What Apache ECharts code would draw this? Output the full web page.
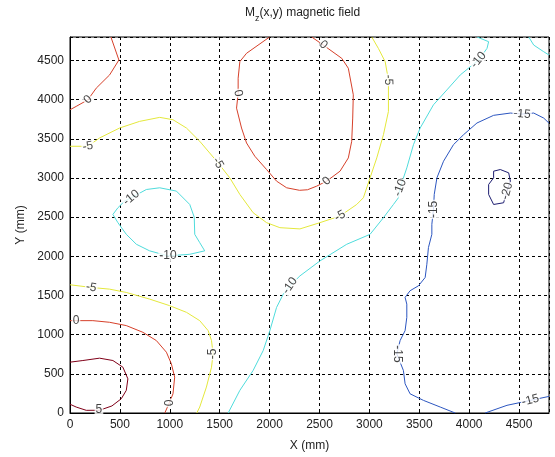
<!DOCTYPE html>
<html>
<head>
<meta charset="utf-8">
<script src="https://cdn.jsdelivr.net/npm/echarts@6/dist/echarts.min.js"></script>
<style>
  html, body { margin: 0; padding: 0; background: #fff; }
  #chart { width: 555px; height: 457px; }
</style>
</head>
<body>
<div id="chart"></div>
<script>
// contour levels as [x, y] in mm
const level0TopLeft = [[410, 4800], [490, 4506], [397, 4316], [263, 4147], [179, 3998], [62, 3914], [0, 3871]]
const level0Top = [[2000, 4800], [1769, 4592], [1702, 4486], [1685, 4274], [1685, 4083], [1669, 3892], [1719, 3638], [1769, 3447], [1852, 3278], [1970, 3108], [2070, 2960], [2171, 2875], [2300, 2843], [2380, 2850], [2472, 2896], [2572, 2960], [2706, 3087], [2789, 3256], [2823, 3469], [2833, 3765], [2839, 4062], [2789, 4401], [2723, 4528], [2538, 4697], [2422, 4800]]
const level0Bottom = [[0, 1179], [229, 1179], [397, 1158], [564, 1116], [731, 1030], [865, 925], [966, 776], [1016, 627], [1049, 458], [1032, 245], [995, 130], [950, 0]]
const level5 = [[0, 649], [129, 670], [296, 700], [430, 670], [530, 585], [580, 436], [564, 289], [514, 182], [420, 90], [296, 35], [163, 34], [62, 76], [0, 112]]
const levelM5Top = [[0, 3405], [179, 3405], [296, 3511], [497, 3638], [698, 3723], [899, 3774], [1032, 3744], [1167, 3638], [1300, 3469], [1484, 3193], [1601, 3002], [1702, 2790], [1835, 2557], [1970, 2430], [2103, 2366], [2304, 2350], [2505, 2430], [2706, 2515], [2873, 2662], [2940, 2748], [3007, 3002], [3074, 3256], [3141, 3553], [3191, 3850], [3191, 4252], [3158, 4486], [3090, 4655], [3024, 4800]]
const levelM5Bottom = [[0, 1637], [213, 1603], [397, 1581], [564, 1539], [798, 1454], [999, 1370], [1167, 1285], [1300, 1179], [1384, 1052], [1418, 925], [1434, 754], [1418, 585], [1367, 331], [1300, 76], [1270, 0]]
const levelM10Loop = [[614, 2748], [765, 2853], [899, 2875], [1066, 2833], [1200, 2662], [1245, 2500], [1250, 2281], [1300, 2175], [1350, 2070], [1200, 2026], [982, 2006], [798, 2070], [665, 2154], [564, 2281], [480, 2430], [430, 2535], [480, 2620], [547, 2705], [614, 2748]]
const levelM10 = [[1585, 0], [1702, 289], [1835, 543], [1936, 797], [2003, 1052], [2070, 1348], [2137, 1517], [2204, 1624], [2304, 1750], [2505, 1942], [2773, 2154], [3007, 2281], [3141, 2493], [3241, 2662], [3291, 2748], [3308, 2875], [3375, 3129], [3442, 3426], [3509, 3638], [3642, 3934], [3777, 4125], [3911, 4316], [4094, 4506], [4179, 4655], [4195, 4740], [4080, 4800]]
const levelM10Corner = [[4597, 4800], [4614, 4783], [4647, 4697], [4747, 4612], [4800, 4570]]
const levelM15 = [[4800, 3700], [4747, 3765], [4647, 3829], [4530, 3816], [4413, 3829], [4245, 3800], [4078, 3702], [3944, 3553], [3843, 3426], [3743, 3214], [3677, 3002], [3650, 2790], [3642, 2599], [3626, 2408], [3626, 2281], [3592, 2112], [3576, 1899], [3559, 1730], [3492, 1624], [3408, 1561], [3358, 1476], [3375, 1390], [3375, 1221], [3358, 1052], [3308, 925], [3275, 754], [3341, 543], [3358, 373], [3408, 245], [3542, 161], [3710, 76], [3860, 0]]
const levelM15Corner = [[4160, 0], [4379, 98], [4613, 161], [4800, 212]]
const levelM20 = [[4245, 3087], [4312, 3108], [4396, 3066], [4413, 2960], [4379, 2833], [4345, 2684], [4245, 2662], [4195, 2790], [4195, 2917], [4245, 3002], [4245, 3087]]

// inline contour labels: [x, y], text, rotation
const labelPos = [[180, 4000], [1685, 4083], [2540, 4700], [2572, 2960], [995, 130], [60, 1180],
  [290, 45], [179, 3405], [1484, 3193], [2706, 2515], [3191, 4252], [213, 1603], [1434, 754],
  [614, 2748], [982, 2006], [2204, 1624], [3308, 2875], [4094, 4506],
  [4530, 3816], [3642, 2599], [3275, 754], [4613, 161], [4379, 2833]]
const labelText = ['0', '0', '0', '0', '0', '0', '5', '-5', '-5', '-5', '-5', '-5', '-5',
  '-10', '-10', '-10', '-10', '-10', '-15', '-15', '-15', '-15', '-20']
const labelRot = [45, -80, -40, 45, 90, 0, 0, 10, -60, 30, -88, -10, 90,
  40, 0, 55, 70, 50, -5, 90, -90, 15, 75]

const xTicks = [0, 500, 1000, 1500, 2000, 2500, 3000, 3500, 4000, 4500]
const yTicks = [0, 500, 1000, 1500, 2000, 2500, 3000, 3500, 4000, 4500]

const colors = { '5': '#800018', '0': '#d6402a', '-5': '#e4e83c', '-10': '#4fdcdc', '-15': '#2c56c0', '-20': '#1c1c70' }

const contours = [
  ['0', level0TopLeft], ['0', level0Top], ['0', level0Bottom], ['5', level5],
  ['-5', levelM5Top], ['-5', levelM5Bottom], ['-10', levelM10Loop], ['-10', levelM10],
  ['-10', levelM10Corner], ['-15', levelM15], ['-15', levelM15Corner], ['-20', levelM20]
]

const chart = echarts.init(document.getElementById('chart'))
const font = 'Liberation Sans, Arial, sans-serif'

const series = contours.map(c => ({
  type: 'line',
  data: c[1],
  showSymbol: false,
  silent: true,
  lineStyle: { color: colors[c[0]], width: 1 },
  z: 2
}))

series.push({
  type: 'scatter',
  symbolSize: 1,
  silent: true,
  itemStyle: { color: 'rgba(0,0,0,0)' },
  z: 5,
  label: {
    show: true,
    position: 'inside',
    formatter: '{b}',
    color: '#111',
    fontSize: 12,
    fontFamily: font,
    backgroundColor: '#fff',
    padding: [0, 1]
  },
  data: labelPos.map((p, i) => ({ name: labelText[i], value: p, label: { rotate: labelRot[i] } }))
})

chart.setOption({
  animation: false,
  backgroundColor: '#fff',
  grid: {
    left: 70, right: 6, top: 37, bottom: 41,
    show: true, borderColor: '#000', borderWidth: 1
  },
  graphic: [{
    type: 'text',
    left: 245,
    top: 5,
    style: {
      text: '{m|M}{s|z}{m|(x,y) magnetic field}',
      rich: {
        m: { fontSize: 12, fontFamily: font, fill: '#222', lineHeight: 16, verticalAlign: 'top', padding: [2, 0, 0, 0] },
        s: { fontSize: 9, fontFamily: font, fill: '#222', lineHeight: 16, verticalAlign: 'top', padding: [9, 0, 0, 0] }
      }
    }
  }],
  xAxis: {
    type: 'value',
    min: 0, max: 4800, interval: 500,
    name: 'X (mm)', nameLocation: 'middle', nameGap: 27,
    nameTextStyle: { fontSize: 12, fontFamily: font, color: '#222' },
    axisLine: { show: true, lineStyle: { color: '#000' } },
    axisTick: { show: true, inside: true, length: 4, lineStyle: { color: '#000' } },
    axisLabel: {
      fontSize: 12, fontFamily: font, color: '#222', margin: 6,
      showMaxLabel: false,
      formatter: v => xTicks.includes(v) ? String(v) : ''
    },
    splitLine: { show: true, lineStyle: { color: '#000', type: [3, 3], width: 1 } }
  },
  yAxis: {
    type: 'value',
    min: 0, max: 4800, interval: 500,
    name: 'Y (mm)', nameLocation: 'middle', nameGap: 42, nameRotate: 90,
    nameTextStyle: { fontSize: 12, fontFamily: font, color: '#222' },
    axisLine: { show: true, lineStyle: { color: '#000' } },
    axisTick: { show: true, inside: true, length: 4, lineStyle: { color: '#000' } },
    axisLabel: {
      fontSize: 12, fontFamily: font, color: '#222', margin: 6,
      showMaxLabel: false,
      formatter: v => yTicks.includes(v) ? String(v) : ''
    },
    splitLine: { show: true, lineStyle: { color: '#000', type: [3, 3], width: 1 } }
  },
  series: series
})
</script>
</body>
</html>
